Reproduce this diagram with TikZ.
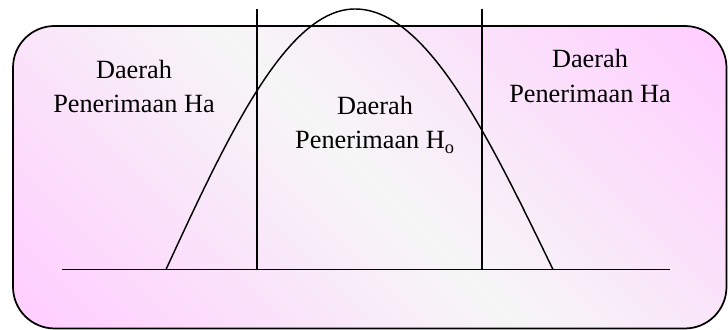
\documentclass[tikz,border=0pt]{standalone}
\usepackage{fontspec}
\setmainfont{Liberation Serif}
\usepackage{xcolor}
\definecolor{BandPink} {RGB}{255,206,255}
\definecolor{BandWhite}{RGB}{246,246,246}
\usetikzlibrary{shadings}
\pgfdeclarehorizontalshading{pinkband}{100bp}{
  color(0bp)=(BandPink); color(16bp)=(BandPink);
  color(50bp)=(BandWhite);
  color(84bp)=(BandPink); color(100bp)=(BandPink)}

\begin{document}
\begin{tikzpicture}[
  panel/.style={
    draw=black, line width=1.3pt,
    rounded corners=1.1cm,
    shade, shading=pinkband,
    shading angle=45},
  axisline/.style={
    black, line width=1.1pt},
  curveline/.style={
    black, line width=1.1pt},
  region/.style={
    align=center, inner sep=0pt,
    font=\fontsize{19.8}{25.6}\selectfont,
    anchor=base}
]
\useasboundingbox (0,0) rectangle (19.262,8.731);

\draw[panel] (0.344,0.040) rectangle (19.222,8.043);

% axis and the two limits
\coordinate (axL) at (1.640,1.601);
\coordinate (axR) at (17.727,1.601);
\coordinate (limLtop) at (6.800,8.493);
\coordinate (limLbot) at (6.800,1.601);
\coordinate (limRtop) at (12.753,8.493);
\coordinate (limRbot) at (12.753,1.601);

% the curve
\coordinate (footL) at (4.392,1.601);
\coordinate (peak)  at (9.393,8.493);
\coordinate (footR) at (14.631,1.601);

\draw[axisline] (axL) -- (axR);
\draw[axisline] (limLtop) -- (limLbot);
\draw[axisline] (limRtop) -- (limRbot);
\draw[curveline] (footL) sin (peak) cos (footR);

\node[region] (tolakL) at (3.545,5.741)
  {Daerah\\Penerimaan Ha};
\node[region] (terima) at (9.922,4.789)
  {Daerah\\Penerimaan H\textsubscript{o}};
\node[region] (tolakR) at (15.610,6.032)
  {Daerah\\Penerimaan Ha};
\end{tikzpicture}
\end{document}
